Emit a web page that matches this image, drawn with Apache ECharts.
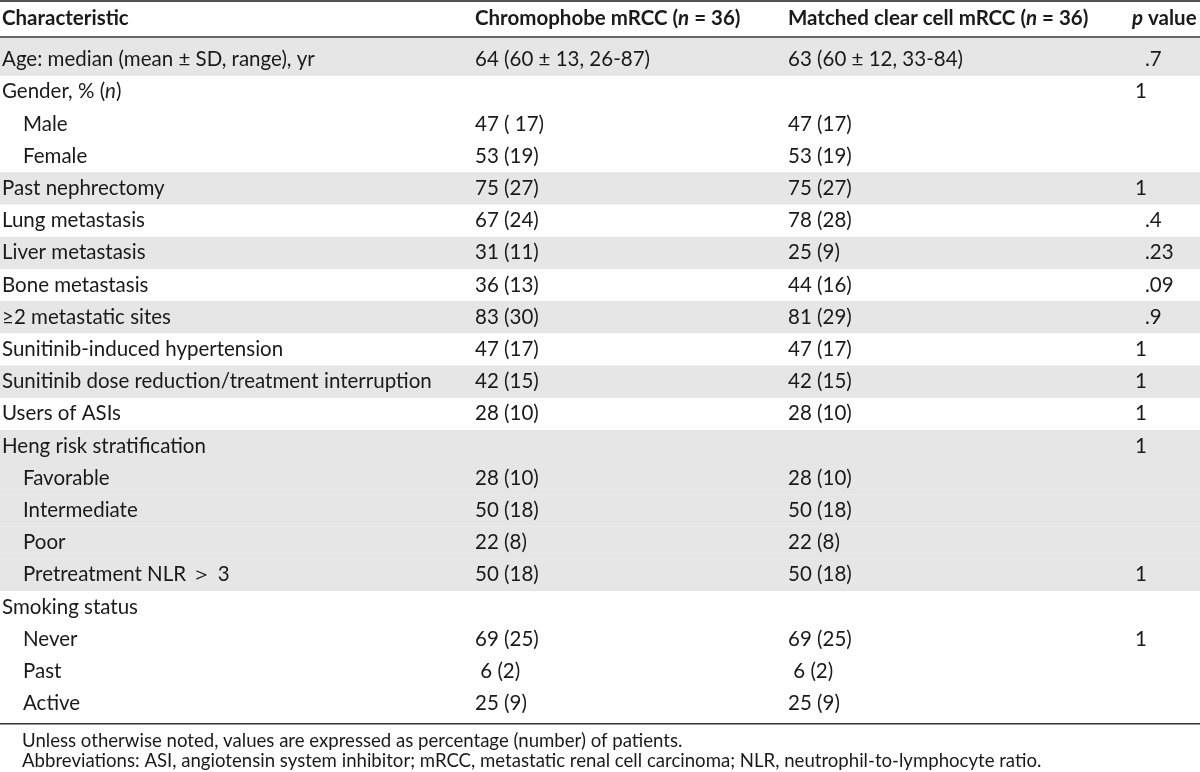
<!DOCTYPE html>
<html><head><meta charset="utf-8">
<script src="https://cdn.jsdelivr.net/npm/echarts@6/dist/echarts.min.js"></script>
<style>html,body{margin:0;padding:0;background:#fff}#c{width:1200px;height:772px}</style>
</head><body><div id="c"></div>
<script>
// ---------- data ----------
const headers = ['Characteristic', 'Chromophobe mRCC ({bi|n} = 36)', 'Matched clear cell mRCC ({bi|n} = 36)', '{bi|p} value'];
const characteristics = [
  'Age: median (mean \u00b1 SD, range), yr',
  'Gender, % ({i|n})',
  'Male',
  'Female',
  'Past nephrectomy',
  'Lung metastasis',
  'Liver metastasis',
  'Bone metastasis',
  '\u22652 metastatic sites',
  'Sunitinib-induced hypertension',
  'Sunitinib dose reduction/treatment interruption',
  'Users of ASIs',
  'Heng risk stratification',
  'Favorable',
  'Intermediate',
  'Poor',
  'Pretreatment NLR \uff1e 3',
  'Smoking status',
  'Never',
  'Past',
  'Active'
];
const indented = [false,false,true,true,false,false,false,false,false,false,false,false,false,true,true,true,true,false,true,true,true];
const chromophobe = ['64 (60 \u00b1 13, 26-87)','','47 ( 17)','53 (19)','75 (27)','67 (24)','31 (11)','36 (13)','83 (30)','47 (17)','42 (15)','28 (10)','','28 (10)','50 (18)','22 (8)','50 (18)','','69 (25)',' 6 (2)','25 (9)'];
const clearCell = ['63 (60 \u00b1 12, 33-84)','','47 (17)','53 (19)','75 (27)','78 (28)','25 (9)','44 (16)','81 (29)','47 (17)','42 (15)','28 (10)','','28 (10)','50 (18)','22 (8)','50 (18)','','69 (25)',' 6 (2)','25 (9)'];
const pValues = ['.7','1','','','1','.4','.23','.09','.9','1','1','1','1','','','','1','','1','',''];
const shadedRows = [0,4,6,8,10,12,13,14,15,16];
const footnotes = [
  'Unless otherwise noted, values are expressed as percentage (number) of patients.',
  'Abbreviations: ASI, angiotensin system inhibitor; mRCC, metastatic renal cell carcinoma; NLR, neutrophil-to-lymphocyte ratio.'
];

// ---------- layout ----------
const FONT = 'Lato, "Open Sans", sans-serif';
const FS = 20.5;
const FN_FS = 18.6;
const TXT = '#1a1a1a';
const SHADE = '#e6e6e6';
const COLX = [2, 475, 788, 1135];
const INDENT = 21;
const DEC_OFF = 10;
const ROW_TOP = 43.5, ROW_H = 32.2;
const N = characteristics.length;
const HEADER_LINE = 37;

const rich = {
  i: {fontFamily: FONT, fontSize: FS, fontStyle: 'italic', fill: TXT},
  bi: {fontFamily: FONT, fontSize: FS, fontStyle: 'italic', fontWeight: 'bold', fill: TXT}
};

const cells = [];
characteristics.forEach((t, i) => {
  cells.push({value: [COLX[0] + (indented[i] ? INDENT : 0), i], text: t});
  if (chromophobe[i]) cells.push({value: [COLX[1], i], text: chromophobe[i]});
  if (clearCell[i]) cells.push({value: [COLX[2], i], text: clearCell[i]});
  if (pValues[i]) cells.push({value: [COLX[3] + (pValues[i][0] === '.' ? DEC_OFF : 0), i], text: pValues[i]});
});

const chart = echarts.init(document.getElementById('c'), null, {renderer: 'canvas'});
const gridBottomY = ROW_TOP + N * ROW_H;

chart.setOption({
  animation: false,
  backgroundColor: '#ffffff',
  grid: {left: 0, right: 0, top: ROW_TOP, height: N * ROW_H, containLabel: false},
  xAxis: {type: 'value', min: 0, max: 1200, show: false},
  yAxis: {type: 'category', data: characteristics, inverse: true, show: false},
  series: [
    {
      type: 'custom',
      silent: true,
      data: shadedRows.map(r => [0, r]),
      renderItem: (params, api) => {
        const c = api.coord([0, api.value(1)]);
        const h = api.size([0, 1])[1];
        let top = c[1] - h / 2;
        let height = h;
        if (api.value(1) === 0) { height += top - (HEADER_LINE + 1); top = HEADER_LINE + 1; }
        return {type: 'rect', shape: {x: params.coordSys.x, y: top, width: params.coordSys.width, height: height}, style: {fill: SHADE}};
      },
      z: 1
    },
    {
      type: 'custom',
      silent: true,
      data: cells,
      renderItem: (params, api) => {
        const c = api.coord([api.value(0), api.value(1)]);
        const item = cells[params.dataIndex];
        return {type: 'text', x: c[0], y: c[1], style: {text: item.text, fill: TXT, fontFamily: FONT, fontSize: FS, align: 'left', verticalAlign: 'middle', rich: rich}};
      },
      z: 2
    }
  ],
  graphic: [
    {type: 'line', shape: {x1: 0, y1: 1, x2: 1200, y2: 1}, style: {stroke: '#1a1a1a', lineWidth: 1.6}},
    {type: 'line', shape: {x1: 0, y1: HEADER_LINE, x2: 1200, y2: HEADER_LINE}, style: {stroke: '#333', lineWidth: 1.4}},
    {type: 'line', shape: {x1: 0, y1: gridBottomY + 4, x2: 1200, y2: gridBottomY + 4}, style: {stroke: '#333', lineWidth: 1.4}},
  ].concat(headers.map((h, k) => ({
    type: 'text', x: COLX[k] - (k === 3 ? 3 : 0), y: 18,
    style: {text: h, fill: TXT, fontFamily: FONT, fontSize: FS, fontWeight: 'bold', align: 'left', verticalAlign: 'middle', rich: rich}
  }))).concat(footnotes.map((f, k) => ({
    type: 'text', x: 22, y: gridBottomY + 21 + k * 20,
    style: {text: f, fill: TXT, fontFamily: FONT, fontSize: FN_FS, align: 'left', verticalAlign: 'middle'}
  })))
});
</script>
</body></html>
